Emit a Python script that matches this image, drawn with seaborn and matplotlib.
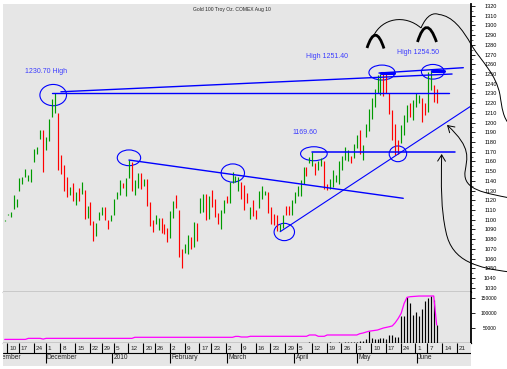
import numpy as np
import pandas as pd
import matplotlib
matplotlib.use("Agg")
import matplotlib.pyplot as plt
import seaborn as sns
from matplotlib.patches import Ellipse, FancyArrowPatch, PathPatch
from matplotlib.path import Path

# ---------------------------------------------------------------
# data (Gold Aug 10 contract, daily bars)
# ---------------------------------------------------------------
highs = [1100, 1106, 1108, 1125, 1121, 1143, 1144, 1152, 1146, 1152,
         1173, 1175, 1192, 1192, 1185, 1204, 1224, 1230.7, 1210, 1167,
         1156, 1144, 1134, 1138, 1128, 1133, 1139, 1131, 1114, 1118,
         1099, 1097, 1108, 1113, 1113, 1100, 1105, 1121, 1128, 1141,
         1138, 1143, 1161, 1159, 1141, 1148, 1148, 1142, 1142, 1118,
         1100, 1105, 1102, 1102, 1096, 1091, 1109, 1119, 1125, 1110,
         1070, 1075, 1084, 1082, 1098, 1097, 1122, 1126, 1126, 1124,
         1131, 1121, 1107, 1110, 1120, 1124, 1139, 1149, 1145, 1144,
         1139, 1136, 1127, 1113, 1120, 1110, 1130, 1135, 1130, 1128,
         1113, 1106, 1105, 1096, 1105, 1114, 1114, 1120, 1129, 1135,
         1141, 1154, 1154, 1165, 1169.6, 1158, 1160, 1163, 1160, 1137,
         1142, 1151, 1146, 1160, 1166, 1175, 1172, 1166, 1178, 1187,
         1192, 1177, 1199, 1214, 1225, 1235, 1249, 1250, 1251.4, 1251,
         1230, 1213, 1199, 1182, 1197, 1208, 1218, 1220, 1223, 1230,
         1228, 1225, 1220, 1252, 1254.5, 1239, 1235]

lows = [1099, 1105, 1103, 1111, 1113, 1130, 1137, 1144, 1140, 1139,
        1159, 1168, 1183, 1149, 1172, 1181, 1206, 1210, 1151, 1147,
        1130, 1123, 1125, 1119, 1115, 1119, 1126, 1101, 1102, 1094,
        1078, 1083, 1100, 1105, 1100, 1090, 1099, 1105, 1121, 1125,
        1133, 1124, 1143, 1130, 1125, 1133, 1132, 1135, 1114, 1093,
        1087, 1096, 1089, 1086, 1085, 1077, 1081, 1102, 1112, 1062,
        1050, 1066, 1065, 1070, 1072, 1078, 1107, 1108, 1100, 1101,
        1113, 1103, 1096, 1090, 1107, 1117, 1117, 1138, 1139, 1130,
        1121, 1110, 1117, 1101, 1104, 1101, 1112, 1121, 1125, 1107,
        1096, 1095, 1088, 1088, 1091, 1105, 1105, 1105, 1117, 1124,
        1124, 1137, 1145, 1158, 1155, 1146, 1151, 1155, 1132, 1131,
        1132, 1134, 1139, 1137, 1151, 1161, 1160, 1158, 1164, 1174,
        1168, 1161, 1185, 1191, 1204, 1216, 1230, 1228, 1227, 1230,
        1209, 1182, 1167, 1168, 1179, 1187, 1201, 1206, 1203, 1216,
        1220, 1201, 1208, 1211, 1234, 1221, 1220]

# g = up bar, r = down bar
updown = ("gggggggggg" "gggrggggrr" "rrgrgrgrgr" "rgggrrgggg" "rggrggrgrr"
          "rggrrrggrr" "rggrgrggrg" "rrrggrgggg" "rrrgrrgggr" "rrrggrrggg"
          "ggrggrggrr" "gggggggrgg" "rgggggggrr" "rrrrgggrgg" "grrggrr")

volume = [0, 0, 0, 0, 0, 0, 0, 0, 1500, 0,
          0, 0, 0, 0, 0, 0, 0, 0, 0, 0,
          0, 0, 0, 0, 0, 0, 0, 0, 0, 0,
          0, 0, 0, 0, 0, 0, 0, 0, 0, 0,
          0, 0, 0, 0, 0, 0, 0, 0, 0, 0,
          0, 0, 0, 0, 0, 0, 0, 0, 0, 0,
          0, 0, 0, 0, 0, 0, 0, 0, 0, 0,
          0, 0, 0, 0, 0, 0, 0, 0, 1500, 0,
          1500, 0, 1500, 0, 0, 0, 0, 0, 0, 0,
          0, 0, 0, 0, 0, 0, 0, 0, 0, 0,
          0, 0, 0, 3000, 0, 0, 0, 0, 0, 0,
          3000, 0, 0, 3000, 0, 3000, 3000, 3000, 4000, 5000,
          7000, 8000, 12000, 40000, 18000, 13000, 13000, 16000, 16000, 12000,
          27000, 27000, 21000, 21000, 90000, 90000, 154000, 135000, 93000, 102000,
          91000, 112000, 141000, 151000, 157000, 143000, 60000]

open_int = [12000, 12000, 12000, 12000, 12000, 12000, 12000, 12000, 15500, 15500,
            15500, 15500, 15500, 13000, 15500, 15500, 15500, 15500, 15500, 15500,
            15500, 15500, 15500, 15500, 15500, 15500, 15500, 15500, 15500, 15500,
            15500, 15500, 15500, 15500, 15500, 15500, 15500, 15500, 15500, 15500,
            15500, 15500, 15500, 15500, 19000, 19000, 19000, 19000, 19000, 19000,
            19000, 19000, 19000, 19000, 19000, 19000, 19000, 19000, 19000, 19000,
            19000, 19000, 19000, 19000, 19000, 19000, 19000, 19000, 19000, 19000,
            19000, 19000, 19000, 19000, 19000, 19000, 19000, 19000, 22000, 22000,
            20000, 20000, 20000, 22300, 22300, 22300, 22300, 22300, 22300, 22300,
            22300, 22300, 22300, 22300, 22300, 22300, 22300, 22300, 22300, 22300,
            22300, 22300, 22300, 26700, 26700, 26700, 22300, 22300, 22300, 26700,
            26700, 26700, 26700, 26700, 26700, 26700, 26700, 26700, 26700, 26700,
            31000, 33000, 36000, 39000, 40500, 42000, 43300, 46500, 50000, 52000,
            54300, 57000, 67700, 82000, 99000, 132000, 152300, 154300, 155000, 156000,
            156500, 156500, 156500, 156700, 156700, 156700, 60000]

# weekly date labels (bar number of the week's first day) and months
week_bar = [1, 5, 10, 14, 19, 24, 29, 33, 37, 42, 47, 51, 56, 61, 66, 70, 75,
            80, 85, 90, 95, 99, 104, 109, 114, 119, 124, 129, 134, 139, 143, 148, 153]
week_lbl = ["10", "17", "24", "1", "8", "15", "22", "29", "5", "12", "20", "26",
            "2", "9", "17", "23", "2", "9", "16", "23", "29", "5", "12", "19", "26",
            "3", "10", "17", "24", "1", "7", "14", "21"]
month_bar = [-5.4, 13.8, 36.2, 56.0, 75.0, 97.9, 119.0, 139.2]
month_lbl = ["November", "December", "2010", "February", "March", "April", "May", "June"]

# drawn study lines: (bars, prices, width)
study_lines = [
    ([19, 151.2], [1231.7, 1250.0], 1.0),
    ([126.5, 155], [1251.0, 1256.5], 1.0),
    ([16, 150.2], [1230.1, 1230.1], 1.0),
    ([42, 134.7], [1161.4, 1122.0], 1.0),
    ([93.1, 157.6], [1087.6, 1217.0], 0.8),
    ([103.7, 152.2], [1169.6, 1169.6], 1.1),
    ([127.2, 131.5], [1251.0, 1251.0], 2.2),
    ([144.5, 148.5], [1253.2, 1253.2], 2.2),
]
# circled turning points: (bar, price, width in bars, height in $)
circles = [(16.4, 1228.3, 9.0, 21.9), (42.0, 1163.7, 7.9, 16.2),
           (77.1, 1148.0, 7.9, 18.8), (104.5, 1167.9, 9.0, 14.4),
           (94.5, 1087.3, 6.9, 17.8), (132.9, 1167.8, 5.9, 16.2),
           (127.5, 1251.5, 8.8, 15.4), (144.7, 1252.3, 7.7, 15.1)]
notes = [(6.9, 1253.0, "1230.70 High"), (101.8, 1267.8, "High 1251.40"),
         (132.6, 1272.6, "High 1254.50"), (97.4, 1190.0, "1169.60")]

df = pd.DataFrame({"bar": np.arange(len(highs)), "high": highs, "low": lows,
                   "dir": list(updown), "volume": volume, "oi": open_int})

# ---------------------------------------------------------------
# figure
# ---------------------------------------------------------------
W, H = 507, 369
sns.set_theme(style="white")
plt.rcParams["font.family"] = ["Liberation Sans", "DejaVu Sans"]

GRAY = "#e6e6e6"
BLUE = "#0000ff"
UP, DOWN = "#009a00", "#ff0000"


def box(x0, y0, x1, y1):
    # pixel rectangle (origin top-left) -> figure fraction
    return [x0 / W, 1 - y1 / H, (x1 - x0) / W, (y1 - y0) / H]


def px(x, y):
    return (x / W, 1 - y / H)


fig = plt.figure(figsize=(W / 100, H / 100), dpi=100, facecolor="white")
ax = fig.add_axes(box(3, 4, 471, 292), facecolor=GRAY)
axv = fig.add_axes(box(3, 292, 471, 343), facecolor=GRAY, sharex=ax)
axd = fig.add_axes(box(3, 343, 471, 366), facecolor=GRAY, sharex=ax)

# price bars
ax.vlines(df["bar"], df["low"], df["high"], colors=df["dir"].map({"g": UP, "r": DOWN}), lw=0.85)

for xs, ys, w in study_lines:
    sns.lineplot(x=xs, y=ys, ax=ax, color=BLUE, lw=w)
for cx, cy, w, h in circles:
    ax.add_patch(Ellipse((cx, cy), w, h, fill=False, ec=BLUE, lw=0.8))
for x, y, t in notes:
    ax.text(x, y, t, color="#3b3bff", fontsize=5, va="center", ha="left")

ax.set_xlim(-0.57, 157.6)
ax.set_ylim(1025.5, 1322.1)
ax.set_xlabel("")
ax.set_ylabel("")

# volume / open interest
axv.vlines(df["bar"], 0, df["volume"], colors="black", lw=0.85)
sns.lineplot(data=df, x="bar", y="oi", ax=axv, color="#ff00ff", lw=0.9)
axv.set_ylim(0, 170000)
axv.set_xlabel("")
axv.set_ylabel("")

# right hand scales
for a, ticks, fs in [(ax, list(range(1030, 1321, 10)), 4.0),
                     (axv, [50000, 100000, 150000], 3.5)]:
    a.yaxis.tick_right()
    a.set_yticks(ticks)
    a.set_yticklabels([str(t) for t in ticks])
    a.tick_params(axis="y", direction="out", length=3, width=0.6, pad=15.5,
                  labelsize=fs, colors="black")
    for lab in a.get_yticklabels():
        lab.set_horizontalalignment("right")
    a.tick_params(axis="x", bottom=False, labelbottom=False)
    for s in ["top", "left"]:
        a.spines[s].set_visible(False)
    a.spines["right"].set_color("black")
    a.spines["right"].set_linewidth(1.3)
    a.spines["bottom"].set_color("black")
    a.spines["bottom"].set_linewidth(0.9)
ax.set_yticks(list(range(1035, 1321, 10)), minor=True)
ax.tick_params(axis="y", which="minor", direction="out", length=1.5, width=0.5, right=True, left=False)

# date rows
axd.set_ylim(23, 0)
for s in axd.spines.values():
    s.set_visible(False)
axd.tick_params(axis="both", left=False, bottom=False, labelleft=False, labelbottom=False)
axd.axhline(9.5, color="black", lw=0.8)
axd.vlines(np.array(week_bar) - 0.2, 0, 9.5, colors="black", lw=0.8)
for b, t in zip(week_bar, week_lbl):
    axd.text(b + 0.5, 5.0, t, fontsize=4.6, ha="left", va="center", clip_on=True)
axd.vlines(month_bar[1:], 9.5, 19.5, colors="black", lw=0.8)
for b, t in zip(month_bar, month_lbl):
    axd.text(b + 0.5, 14.2, t, fontsize=4.8, ha="left", va="center", clip_on=True)

fig.text(232 / W, 1 - 9 / H, "Gold 100 Troy Oz. COMEX Aug 10", ha="center", va="center", fontsize=3.6)

# hand drawn marks (pixel positions)
M, C3, C4 = Path.MOVETO, Path.CURVE3, Path.CURVE4


def hand(points, codes, lw):
    p = Path([px(*q) for q in points], codes)
    fig.add_artist(PathPatch(p, transform=fig.transFigure, fill=False, ec="black", lw=lw, clip_on=False))


hand([(367, 48), (375.5, 22), (384, 48.5)], [M, C3, C3], 2.0)
hand([(417.5, 42), (426.5, 13), (436.5, 42)], [M, C3, C3], 2.0)
hand([(373.5, 36), (382, 18), (405, 14), (421, 28)], [M, C4, C4, C4], 0.7)
hand([(421, 28), (427, 14), (434, 12.5), (439, 14.5),
      (452, 16), (462, 28), (472, 46),
      (482, 62), (496, 74), (500, 95),
      (502, 108), (503, 118), (510, 125)],
     [M, C4, C4, C4, C4, C4, C4, C4, C4, C4, C4, C4, C4], 0.7)

for pts in [[(510, 198), (485, 193), (463, 190), (465, 172), (467, 158), (472, 148), (447, 125)],
            [(510, 272), (478, 268), (452, 262), (446, 232), (441, 210), (441, 185), (441.7, 154)]]:
    arr = FancyArrowPatch(path=Path([px(*q) for q in pts], [M, C4, C4, C4, C4, C4, C4]),
                          arrowstyle="->,head_length=0.45,head_width=0.28", mutation_scale=10,
                          transform=fig.transFigure, color="black", lw=0.7)
    fig.add_artist(arr)

fig.savefig("out.png", dpi=100)
